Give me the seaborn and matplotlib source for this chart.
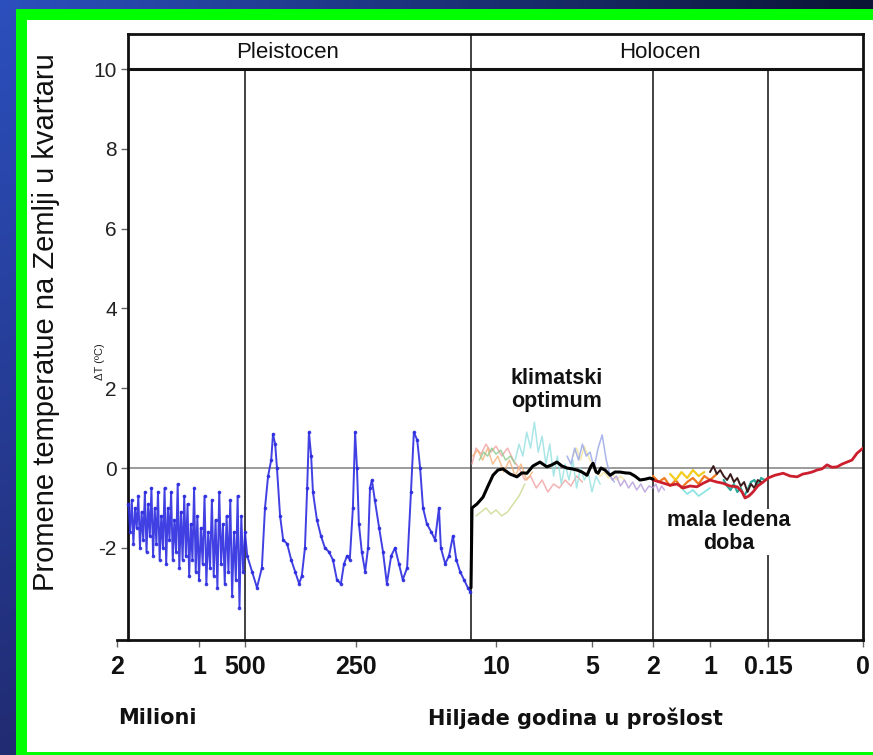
import numpy as np
import pandas as pd
import matplotlib
matplotlib.use("Agg")
import matplotlib.pyplot as plt
import seaborn as sns
from matplotlib.patches import Rectangle
from matplotlib.ticker import FixedLocator, FixedFormatter, NullLocator

# ---------------- data ----------------
# Pleistocene (ka before present, deltaT)
pleist_age = [1860, 1840, 1820, 1800, 1780, 1760, 1740, 1720, 1700, 1680, 1660, 1640, 1620, 1600,
              1580, 1560, 1540, 1520, 1500, 1480, 1460, 1440, 1420, 1400, 1380, 1360, 1340, 1320,
              1300, 1280, 1260, 1240, 1220, 1200, 1180, 1160, 1140, 1120, 1100, 1080, 1060, 1040,
              1020, 1000, 980, 960, 940, 920, 900, 880, 860, 840, 820, 800, 780, 760, 740, 720,
              700, 680, 660, 640, 620, 600, 580, 560, 540, 520, 500,
              495, 484, 473, 462, 455, 448, 441, 437, 432, 428, 421, 414, 405, 396, 387, 378,
              372, 365, 360, 356, 351, 347, 338, 329, 320, 311, 302, 293, 284, 277, 270, 264,
              257, 252, 248, 244, 238, 231, 225, 221, 217, 211, 202, 194, 186, 177, 169, 161,
              153, 144, 136, 130, 123, 117, 111, 103, 94, 86, 78, 74, 65, 57, 49, 42, 34, 26,
              18, 13]
pleist_dT = [-0.9, -1.6, -0.8, -1.9, -1.0, -1.5, -0.7, -2.0, -1.1, -1.8, -0.6, -2.1, -0.9, -1.7,
             -0.5, -2.2, -1.0, -1.9, -0.6, -2.3, -1.2, -2.0, -0.5, -2.4, -1.0, -1.8, -0.6, -2.3,
             -1.3, -2.1, -0.4, -2.5, -1.1, -2.3, -0.7, -2.2, -0.9, -2.7, -1.4, -2.3, -0.5, -2.6,
             -1.2, -2.8, -1.5, -2.4, -0.7, -2.9, -1.6, -2.5, -0.8, -2.7, -1.3, -3.0, -0.6, -2.4,
             -1.4, -2.9, -1.2, -2.6, -0.8, -3.2, -1.6, -2.8, -0.7, -3.5, -1.2, -2.6, -1.6,
             -2.2, -2.6, -3.0, -2.5, -1.0, -0.2, 0.2, 0.85, 0.6, 0.0, -1.2, -1.8, -1.9, -2.3,
             -2.6, -2.9, -2.7, -2.0, -0.5, 0.9, 0.3, -0.6, -1.3, -1.7, -2.0, -2.1, -2.3, -2.8,
             -2.9, -2.4, -2.2, -2.3, -1.0, 0.9, 0.0, -1.4, -2.1, -2.6, -2.0, -0.5, -0.3, -0.8,
             -1.5, -2.1, -2.9, -2.2, -2.0, -2.4, -2.8, -2.5, -0.6, 0.9, 0.7, 0.0, -1.0, -1.4,
             -1.6, -1.8, -1.0, -2.0, -2.4, -2.2, -1.7, -2.3, -2.6, -2.8, -3.0, -3.1]

# Holocene mean (black)
holo_age = [11.5, 11.44, 11.14, 10.78, 10.48, 10.18, 9.9, 9.64, 9.27, 8.91, 8.65, 8.39, 8.08,
            7.71, 7.35, 7.09, 6.83, 6.56, 6.3, 6.04, 5.78, 5.52, 5.26, 5.05, 4.95, 4.8, 4.7,
            4.56, 4.36, 4.11, 3.87, 3.62, 3.38, 3.13, 2.89, 2.64, 2.39, 2.15, 2.0]
holo_dT = [-3.0, -1.0, -0.9, -0.73, -0.45, -0.18, -0.05, -0.02, -0.15, -0.22, -0.12, -0.13, 0.05,
           0.15, 0.03, 0.08, 0.15, 0.05, 0.0, -0.02, -0.05, -0.1, -0.18, 0.05, 0.12, -0.1, -0.13,
           0.0, -0.05, -0.18, -0.1, -0.1, -0.12, -0.13, -0.2, -0.3, -0.28, -0.25, -0.28]

# Holocene proxy records (faint)
proxy_pink_age = [11.44, 11.2, 10.9, 10.6, 10.3, 10.0, 9.7, 9.4, 9.1, 8.8, 8.5, 8.2, 7.9, 7.6, 7.3,
                  7.0, 6.7, 6.4, 6.1, 5.8, 5.5]
proxy_pink_dT = [0.1, 0.5, 0.35, 0.6, 0.4, 0.55, 0.3, 0.5, 0.2, 0.0, -0.3, -0.2, -0.5, -0.3, -0.6,
                 -0.4, -0.5, -0.3, -0.45, -0.2, -0.35]
proxy_orange_age = [11.4, 11.1, 10.8, 10.5, 10.2, 9.9, 9.6, 9.3, 9.0, 8.7, 8.4, 8.1]
proxy_orange_dT = [0.3, 0.45, 0.2, 0.5, 0.1, 0.3, -0.1, 0.2, -0.2, 0.1, -0.3, -0.1]
proxy_cyan_age = [9.0, 8.8, 8.6, 8.4, 8.2, 8.0, 7.8, 7.6, 7.4, 7.2, 7.0, 6.8, 6.6, 6.4, 6.2, 6.0,
                  5.8, 5.6, 5.4, 5.2, 5.0, 4.8, 4.6]
proxy_cyan_dT = [0.2, 0.6, 0.3, 0.9, 0.5, 1.15, 0.4, 0.8, 0.1, 0.6, -0.2, 0.3, -0.4, 0.1, -0.3, 0.2,
                 -0.5, 0.0, -0.3, -0.1, -0.6, -0.2, -0.4]
proxy_green_age = [11.0, 10.75, 10.5, 10.25, 10.0, 9.75, 9.5, 9.25, 9.0]
proxy_green_dT = [0.2, 0.4, 0.3, 0.5, 0.35, 0.45, 0.2, 0.3, 0.1]
proxy_lime_age = [11.2, 10.9, 10.6, 10.3, 10.0, 9.7, 9.4, 9.1, 8.8, 8.5]
proxy_lime_dT = [-1.2, -1.1, -1.0, -1.15, -1.05, -1.2, -1.1, -0.9, -0.7, -0.4]
proxy_blue_age = [6.3, 6.1, 5.9, 5.7, 5.5, 5.3, 5.1, 4.9, 4.7, 4.5, 4.3, 4.1, 3.9]
proxy_blue_dT = [0.3, 0.1, 0.5, 0.2, 0.6, 0.3, 0.4, 0.0, 0.5, 0.83, 0.2, -0.2, -0.35]
proxy_purple_age = [4.2, 4.0, 3.8, 3.6, 3.4, 3.2, 3.0, 2.8, 2.6, 2.4, 2.2, 2.0, 1.95, 1.9, 1.85, 1.8]
proxy_purple_dT = [-0.1, -0.3, -0.2, -0.45, -0.3, -0.5, -0.35, -0.55, -0.4, -0.6, -0.45, -0.5,
                   -0.4, -0.6, -0.45, -0.55]
proxy_yellow_age = [6.0, 5.8, 5.6, 5.4, 5.2, 5.0, 4.8, 4.6, 4.4, 4.2, 4.0, 3.8, 3.6, 3.4]
proxy_yellow_dT = [0.3, 0.5, 0.2, 0.55, 0.3, 0.1, -0.1, -0.2, -0.1, -0.25, -0.15, -0.3, -0.2, -0.3]

# Last two millennia records
late_orange_age = [2.0, 1.9, 1.8, 1.7, 1.6, 1.5, 1.4, 1.3, 1.2, 1.1, 1.0, 0.9]
late_orange_dT = [-0.2, -0.35, -0.25, -0.45, -0.3, -0.5, -0.35, -0.25, -0.4, -0.2, -0.3, -0.15]
late_yellow_age = [1.7, 1.6, 1.5, 1.4, 1.3, 1.2, 1.1]
late_yellow_dT = [-0.15, -0.3, -0.1, -0.25, -0.05, -0.2, -0.1]
late_cyan_age = [1.5, 1.4, 1.3, 1.2, 1.1, 1.0]
late_cyan_dT = [-0.5, -0.65, -0.55, -0.7, -0.6, -0.5]
late_black_age = [1.0, 0.95, 0.9, 0.85, 0.8, 0.75, 0.7, 0.65, 0.6, 0.55, 0.5, 0.45, 0.4, 0.35, 0.3, 0.25]
late_black_dT = [-0.1, 0.05, -0.15, -0.05, -0.2, -0.3, -0.15, -0.35, -0.25, -0.45, -0.35, -0.6,
                 -0.4, -0.5, -0.3, -0.35]
late_teal_age = [0.8, 0.75, 0.7, 0.65, 0.6, 0.55, 0.5, 0.45, 0.4, 0.35, 0.3, 0.25, 0.2]
late_teal_dT = [-0.3, -0.45, -0.55, -0.4, -0.6, -0.5, -0.7, -0.55, -0.35, -0.3, -0.45, -0.25, -0.3]
late_red_age = [2.0, 1.88, 1.7, 1.58, 1.47, 1.35, 1.23, 1.12, 1.0, 0.9, 0.81, 0.707, 0.6, 0.53,
                0.487, 0.43, 0.37, 0.3, 0.22, 0.15, 0.139, 0.126, 0.115, 0.104, 0.095, 0.088,
                0.0805, 0.0727, 0.0647, 0.0568, 0.049, 0.041, 0.033, 0.0253, 0.0174, 0.0095, 0.0]
late_red_dT = [-0.3, -0.35, -0.43, -0.4, -0.5, -0.45, -0.47, -0.38, -0.3, -0.35, -0.38, -0.45,
               -0.47, -0.6, -0.75, -0.7, -0.6, -0.45, -0.35, -0.25, -0.18, -0.13, -0.2, -0.22,
               -0.15, -0.13, -0.1, -0.05, -0.02, 0.08, 0.02, 0.03, 0.1, 0.15, 0.2, 0.37, 0.5]

# x axis (ka) tick labels
tick_ages = [2000, 1000, 500, 250, 10, 5, 2, 1, 0.15, 0]
tick_labels = ["2", "1", "500", "250", "10", "5", "2", "1", "0.15", "0"]
y_ticks = [-2, 0, 2, 4, 6, 8, 10]
period_bounds = [500, 11.5, 2, 0.15]

# ---------------- scale (piecewise broken time axis) ----------------
W, H = 873, 755
scale_age = np.array([2000, 1000, 500, 250, 11.5, 10, 5, 2, 1, 0.15, 0], dtype=float)
scale_pos = np.array([117, 199, 245, 356, 471, 496, 592, 653, 710, 768, 863], dtype=float)


def forward(a):
    # monotonically increasing in age
    return -np.interp(-np.asarray(a, dtype=float), -scale_age, scale_pos)


def inverse(t):
    return -np.interp(-np.asarray(t, dtype=float), scale_pos, -scale_age)


def age_at(px):
    return float(inverse(-px))


sns.set_theme(style="white")
SANS = ["Liberation Sans", "DejaVu Sans"]
plt.rcParams["font.family"] = SANS

fig = plt.figure(figsize=(W / 100, H / 100), dpi=100)

# background gradient
bg = fig.add_axes([0, 0, 1, 1], zorder=-10)
tl = np.array([0.17, 0.31, 0.74]); tr = np.array([0.05, 0.08, 0.21])
bl = np.array([0.13, 0.17, 0.45]); br = np.array([0.05, 0.07, 0.20])
u = np.linspace(0, 1, 64)[None, :, None]
v = np.linspace(0, 1, 64)[:, None, None]
img = (1 - v) * ((1 - u) * tl + u * tr) + v * ((1 - u) * bl + u * br)
bg.imshow(img, aspect="auto", extent=[0, 1, 0, 1], interpolation="bilinear")
bg.set_axis_off()
bg.add_patch(Rectangle((16 / W, 0), 1, 1 - 9 / H, transform=fig.transFigure,
                       facecolor="#00ff00", edgecolor="none"))
bg.add_patch(Rectangle((27 / W, 3 / H), 1, 1 - 23 / H, transform=fig.transFigure,
                       facecolor="white", edgecolor="none"))

ax = fig.add_axes([117 / W, 1 - 640 / H, (863 - 117) / W, (640 - 34) / H])
ax.set_facecolor("none")
ax.set_xscale("function", functions=(forward, inverse))

left_frac = (128 - 117) / (863 - 117)
left_age = age_at(128)
y_lo, y_hi = -4.31, 10.88
top_frac = (10 - y_lo) / (y_hi - y_lo)

# proxies
faint = [
    (proxy_lime_age, proxy_lime_dT, "#c9d98c"),
    (proxy_pink_age, proxy_pink_dT, "#f0a0a0"),
    (proxy_orange_age, proxy_orange_dT, "#f3b27a"),
    (proxy_green_age, proxy_green_dT, "#8cc98c"),
    (proxy_cyan_age, proxy_cyan_dT, "#95e0e0"),
    (proxy_yellow_age, proxy_yellow_dT, "#f2e49a"),
    (proxy_blue_age, proxy_blue_dT, "#95a4e6"),
    (proxy_purple_age, proxy_purple_dT, "#b49ad8"),
]
for a, d, c in faint:
    sns.lineplot(x=a, y=d, ax=ax, color=c, lw=1.1, alpha=0.8, estimator=None, sort=False, zorder=2)

late = [
    (late_cyan_age, late_cyan_dT, "#8fe3e3", 1.3),
    (late_orange_age, late_orange_dT, "#f07a20", 1.6),
    (late_yellow_age, late_yellow_dT, "#f2cc20", 1.6),
    (late_teal_age, late_teal_dT, "#2aa89a", 1.6),
    (late_black_age, late_black_dT, "#3a1a1a", 1.4),
]
for a, d, c, w in late:
    sns.lineplot(x=a, y=d, ax=ax, color=c, lw=w, estimator=None, sort=False, zorder=3)

sns.lineplot(x=late_red_age, y=late_red_dT, ax=ax, color="#cc1f2e", lw=2.0,
             estimator=None, sort=False, zorder=4)
sns.lineplot(x=pleist_age, y=pleist_dT, ax=ax, color="#2b2be0", lw=1.4, alpha=0.9,
             marker="o", markersize=2.6, markeredgewidth=0,
             estimator=None, sort=False, zorder=4)
sns.lineplot(x=holo_age, y=holo_dT, ax=ax, color="black", lw=2.2,
             estimator=None, sort=False, zorder=5)

ax.set_xlim(2000, 0)
ax.set_ylim(y_lo, y_hi)

# reference lines
ax.axhline(0, xmin=left_frac, xmax=1, color="#8a8a8a", lw=1.2, zorder=1)
ax.axhline(10, xmin=left_frac, xmax=1, color="#111111", lw=2.2, zorder=3)
for b in period_bounds:
    ax.axvline(b, ymin=0, ymax=(1 if b == 11.5 else top_frac), color="#333333", lw=1.3, zorder=1)

# spines
for s in ax.spines.values():
    s.set_color("#111111")
    s.set_linewidth(2.0)
    s.set_visible(True)
ax.spines["left"].set_position(("axes", left_frac))
ax.spines["top"].set_bounds(left_age, 0)

# ticks
ax.xaxis.set_major_locator(FixedLocator(tick_ages))
ax.xaxis.set_major_formatter(FixedFormatter(tick_labels))
ax.xaxis.set_minor_locator(NullLocator())
ax.set_yticks(y_ticks)
ax.set_yticklabels([str(t) for t in y_ticks])
ax.tick_params(axis="x", direction="out", length=5, width=1, color="#666666", pad=6,
               labelsize=18, labelcolor="#111111", bottom=True)
ax.tick_params(axis="y", direction="out", length=5, width=1, color="#666666", pad=3,
               labelsize=15, labelcolor="#222222", left=True)
for lab in ax.get_xticklabels():
    lab.set_fontweight("bold")
ax.set_xlabel("")
ax.set_ylabel("")

# header labels
ax.text(age_at(288), 10.42, "Pleistocen", ha="center", va="center", fontsize=16,
        color="#111111")
ax.text(age_at(660), 10.42, "Holocen", ha="center", va="center", fontsize=16,
        color="#111111")

# annotations
ax.text(age_at(557), 1.95, "klimatski\noptimum", ha="center", va="center", fontsize=15.5,
        fontweight="bold", color="#111111", linespacing=1.1)
ax.text(age_at(729), -1.6, "mala ledena\ndoba", ha="center", va="center", fontsize=15.5,
        fontweight="bold", color="#111111", linespacing=1.1, zorder=6,
        bbox=dict(facecolor="white", edgecolor="none", pad=1))

# axis titles
fig.text(46 / W, 1 - 322 / H, "Promene temperatue na Zemlji u kvartaru", rotation=90,
         ha="center", va="center", fontsize=21, color="#111111")
fig.text(100 / W, 1 - 362 / H, "\u0394T (\u00baC)", rotation=90, ha="center", va="center",
         fontsize=8, color="#222222")
fig.text(118 / W, 1 - 718 / H, "Milioni", ha="left", va="center", fontsize=15,
         fontweight="bold", color="#111111", family=["DejaVu Sans"])
fig.text(575 / W, 1 - 718 / H, "Hiljade godina u prošlost", ha="center", va="center", fontsize=15,
         fontweight="bold", color="#111111", family=["DejaVu Sans"])

fig.savefig("out.png", dpi=100)
